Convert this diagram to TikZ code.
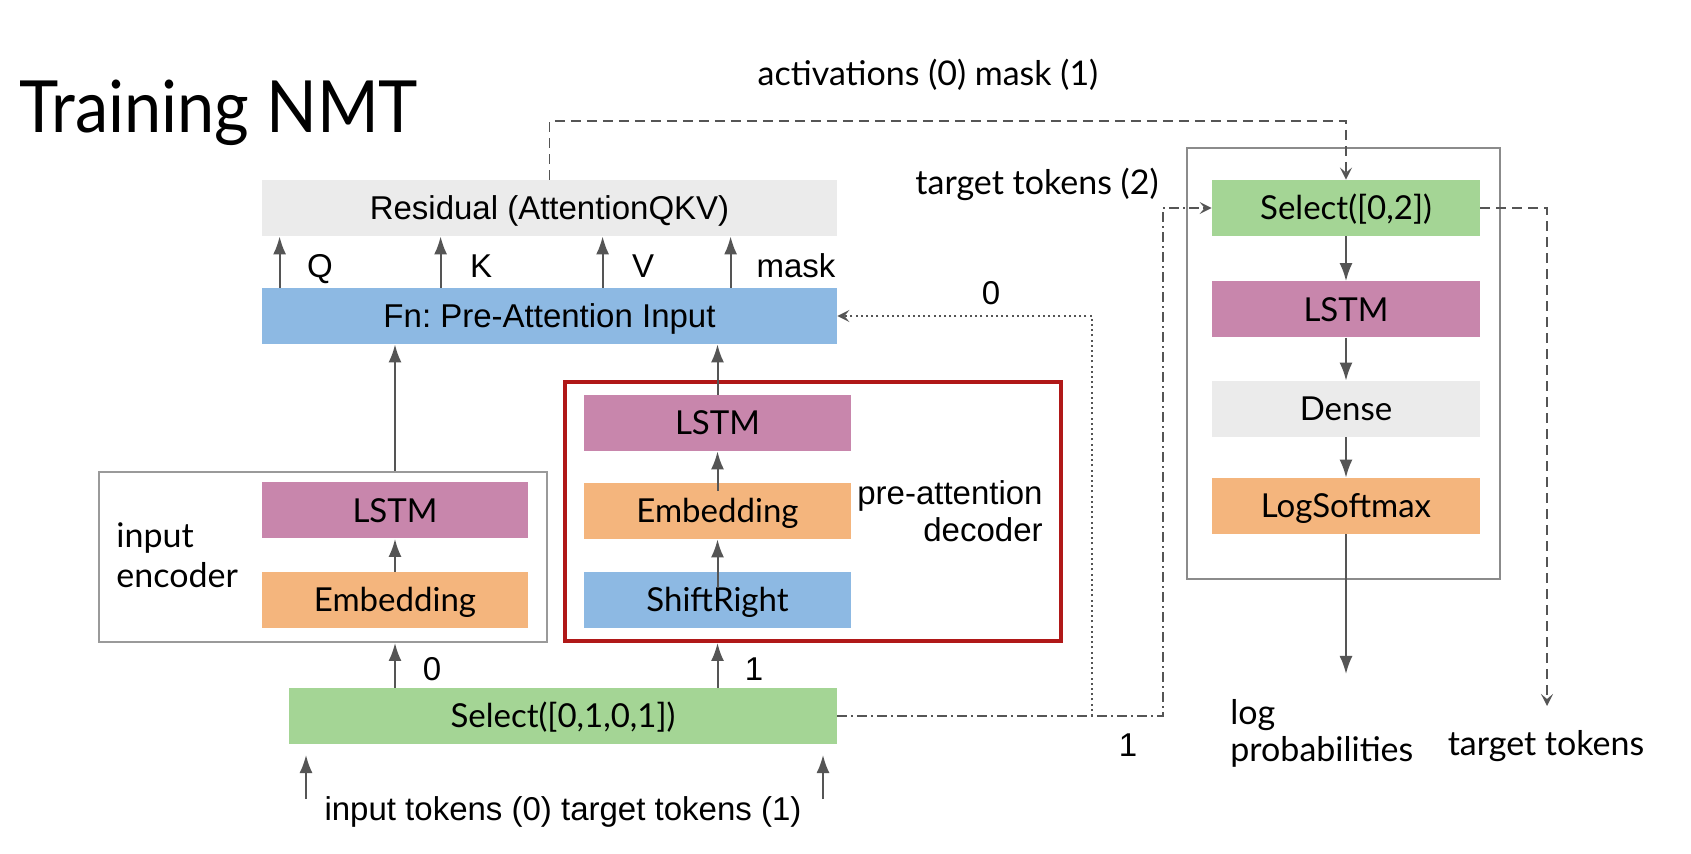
\documentclass[tikz,border=0pt]{standalone}
\usepackage{fontspec}
\setmainfont{Liberation Sans}
\newfontfamily\lato{Lato}
\usetikzlibrary{arrows.meta}
\definecolor{cgray}{HTML}{EBEBEB}
\definecolor{cblue}{HTML}{8DB9E3}
\definecolor{cpink}{HTML}{C886AC}
\definecolor{corange}{HTML}{F4B57D}
\definecolor{cgreen}{HTML}{A4D595}
\definecolor{cred}{HTML}{B01818}
\definecolor{cline}{HTML}{555555}
\definecolor{cframe}{HTML}{9A9A9A}
\frenchspacing
\begin{document}
\begin{tikzpicture}[x=0.5pt,y=-0.5pt,
  box/.style={minimum height=28pt, inner sep=0pt, text height=11.9pt, text depth=0pt, font=\lato\fontsize{16.5}{18}\selectfont, text=black},
  abox/.style={box, text height=11.8pt, font=\fontsize{16.5}{18}\selectfont},
  frame/.style={draw=cframe, line width=1pt, inner sep=0pt},
  lab/.style={inner sep=0pt, font=\fontsize{16.5}{18}\selectfont, text=black},
  llab/.style={inner sep=0pt, font=\lato\fontsize{17}{19}\selectfont, text=black},
  arr/.style={draw=cline, line width=1pt, -{Latex[length=9pt,width=6.5pt]}},
  dsh/.style={draw=cline, line width=0.8pt, dash pattern=on 5pt off 3pt, -{Stealth[length=6pt,width=6pt,inset=2.5pt]}},
  ddot/.style={draw=cline, line width=0.8pt, dash pattern=on 5pt off 2pt on 1pt off 2pt, -{Stealth[length=6pt,width=6pt,inset=2.5pt]}},
  dotl/.style={draw=cline, line width=0.8pt, dash pattern=on 1pt off 1.6pt, -{Stealth[length=6pt,width=6pt,inset=2.5pt]}}
]
\path[use as bounding box, fill=white] (0,0) rectangle (1691,854);

% title
\node[anchor=base west, inner sep=0pt, font=\lato\fontsize{36}{40}\selectfont] (title) at (19,133) {\scalebox{0.925}[1]{Training NMT}};

% frames
\node[frame, minimum width=224pt, minimum height=85pt] (encbox) at (323,557) {};
\node[draw=cred, line width=2pt, inner sep=0pt, minimum width=248pt, minimum height=129.5pt] (redbox) at (813,511.5) {};
\node[frame, draw=cframe!90!black, minimum width=156.5pt, minimum height=215.5pt] (rbox) at (1343.5,363.5) {};

% main boxes
\node[abox, fill=cgray, minimum width=287.5pt] (res) at (549.5,208) {Residual (AttentionQKV)};
\node[abox, fill=cblue, minimum width=287.5pt] (fn) at (549.5,316) {Fn: Pre-Attention Input};
\node[box, fill=cpink, minimum width=133pt] (encL) at (395,510.5) {LSTM};
\node[box, fill=corange, minimum width=133pt] (encE) at (395,600) {Embedding};
\node[box, fill=cpink, minimum width=133.5pt] (decL) at (717.5,423) {LSTM};
\node[box, fill=corange, minimum width=133.5pt] (decE) at (717.5,511) {Embedding};
\node[box, fill=cblue, minimum width=133.5pt] (shift) at (717.5,600) {ShiftRight};
\node[box, fill=cgreen, minimum width=274pt] (sel) at (563,716) {Select([0,1,0,1])};
\node[box, fill=cgreen, minimum width=134pt] (sel2) at (1346,208) {Select([0,2])};
\node[box, fill=cpink, minimum width=134pt] (lstm2) at (1346,309.5) {LSTM};
\node[box, fill=cgray, minimum width=134pt] (dense) at (1346,409) {Dense};
\node[box, fill=corange, minimum width=134pt] (logsm) at (1346,506) {LogSoftmax};

% labels
\node[llab, anchor=base] (act) at (928,86) {activations (0) mask (1)};
\node[llab, anchor=base] (tt2) at (1037,195) {target tokens (2)};
\node[lab, anchor=base] (q) at (320,278) {Q};
\node[lab, anchor=base] (k) at (481,278) {K};
\node[lab, anchor=base] (v) at (643,278) {V};
\node[lab, anchor=base] (mask) at (796,278) {mask};
\node[lab, anchor=base] (zero1) at (991,305) {0};
\node[llab, anchor=base west] (inp1) at (116,548) {input};
\node[llab, anchor=base west] (inp2) at (116,588) {encoder};
\node[lab, anchor=base east] (pre1) at (1043,505) {pre-attention};
\node[lab, anchor=base east] (pre2) at (1043,542) {decoder};
\node[lab, anchor=base] (zero2) at (432,681) {0};
\node[lab, anchor=base] (one2) at (754,681) {1};
\node[lab, anchor=base] (one1) at (1128,756) {1};
\node[llab, anchor=base west] (lp1) at (1230,725) {log};
\node[llab, anchor=base west] (lp2) at (1230,761) {probabilities};
\node[llab, anchor=base] (tt) at (1546,755) {target tokens};
\node[lab, anchor=base] (intok) at (563,820) {input tokens (0) target tokens (1)};

% coordinates
\coordinate (dtop) at (1346,121);
\coordinate (ddc) at (1163,716);
\coordinate (dtc) at (1092,716);
\coordinate (ttend) at (1547,706);
\coordinate (lpend) at (1346,674);
\coordinate (in0) at (306,799);
\coordinate (in0t) at (306,755);
\coordinate (in1) at (823,799);
\coordinate (in1t) at (823,755);

% Q K V mask arrows
\draw[arr] ([xshift=9pt]fn.north west) -- ([xshift=9pt]res.south west);
\draw[arr] ([xshift=89.5pt]fn.north west) -- ([xshift=89.5pt]res.south west);
\draw[arr] ([xshift=170.5pt]fn.north west) -- ([xshift=170.5pt]res.south west);
\draw[arr] ([xshift=234.5pt]fn.north west) -- ([xshift=234.5pt]res.south west);

% encoder / decoder
\draw[arr] (encE.north) -- (encL.south);
\draw[arr] (encbox.north -| encL) -- (fn.south -| encL);
\draw[arr] ([yshift=-8pt]shift.north) -- (decE.south);
\draw[arr] ([yshift=-4pt]decE.north) -- (decL.south);
\draw[arr] (decL.north) -- (fn.south -| decL);
\draw[arr] (sel.north -| encL) -- (encbox.south -| encL);
\draw[arr] (sel.north -| decL) -- (redbox.south -| decL);
\draw[arr] (in0) -- (in0t);
\draw[arr] (in1) -- (in1t);

% right column
\draw[arr] (sel2.south) -- (lstm2.north);
\draw[arr] (lstm2.south) -- (dense.north);
\draw[arr] (dense.south) -- (logsm.north);
\draw[arr] (logsm.south) -- (lpend);

% dashed connectors
\draw[dsh] (res.north) |- (dtop) -- (sel2.north);
\draw[dsh] (sel2.east) -| (ttend);
\draw[ddot] (sel.east) -- (ddc) |- (sel2.west);
\draw[dotl] (dtc) |- (fn.east);
\end{tikzpicture}
\end{document}
